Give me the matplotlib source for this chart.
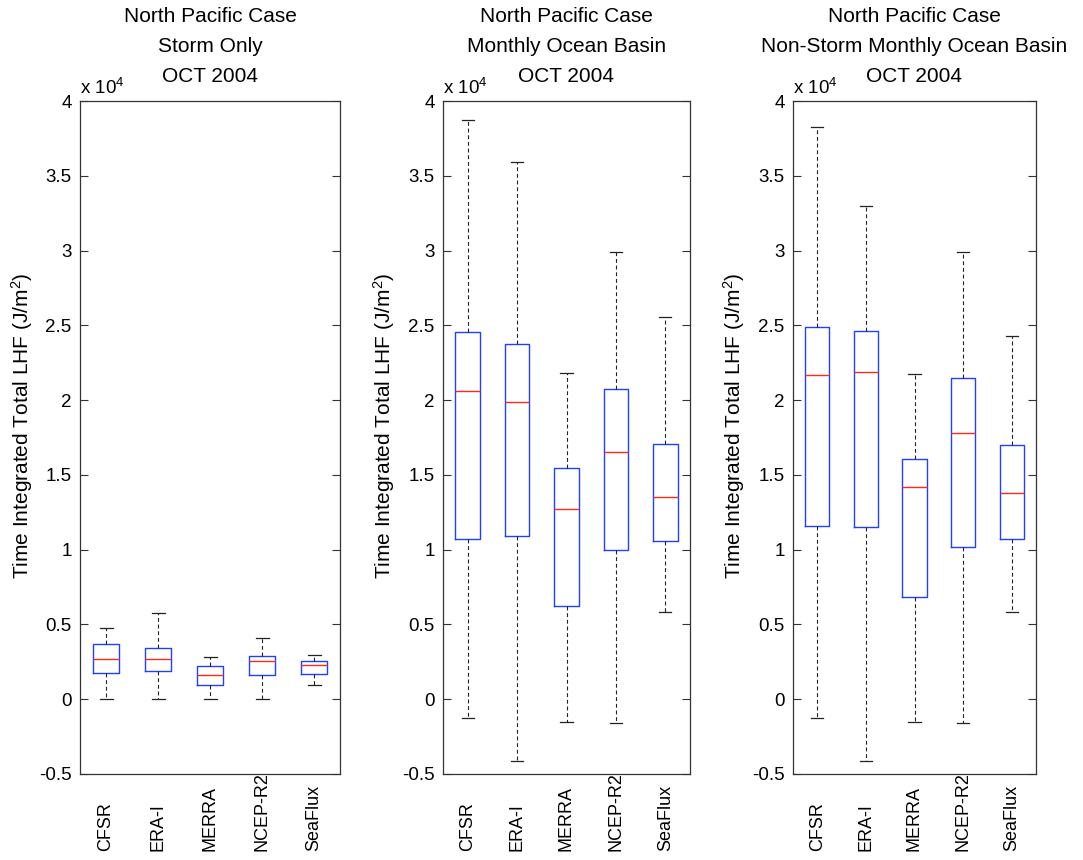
import matplotlib
matplotlib.use("Agg")
import matplotlib.pyplot as plt
from matplotlib.transforms import blended_transform_factory

plt.rcParams['font.family'] = ['Liberation Sans', 'DejaVu Sans']
plt.rcParams['mathtext.fontset'] = 'custom'
plt.rcParams['mathtext.rm'] = 'Liberation Sans'
plt.rcParams['mathtext.it'] = 'Liberation Sans:italic'

# ---------------- data (units of 10^4 J/m^2) ----------------
models = ['CFSR', 'ERA-I', 'MERRA', 'NCEP-R2', 'SeaFlux']

# Panel 1: Storm Only
storm_lo  = [0.0,   0.0,   0.0,   0.0,   0.094]
storm_q1  = [0.175, 0.190, 0.096, 0.161, 0.168]
storm_med = [0.270, 0.271, 0.161, 0.258, 0.229]
storm_q3  = [0.370, 0.343, 0.222, 0.291, 0.258]
storm_hi  = [0.474, 0.576, 0.283, 0.412, 0.298]

# Panel 2: Monthly Ocean Basin
basin_lo  = [-0.127, -0.410, -0.152, -0.160, 0.582]
basin_q1  = [1.074, 1.094, 0.624, 0.996, 1.056]
basin_med = [2.061, 1.987, 1.275, 1.652, 1.353]
basin_q3  = [2.454, 2.378, 1.547, 2.072, 1.704]
basin_hi  = [3.874, 3.593, 2.181, 2.992, 2.559]

# Panel 3: Non-Storm Monthly Ocean Basin
nonstorm_lo  = [-0.127, -0.410, -0.152, -0.160, 0.582]
nonstorm_q1  = [1.156, 1.154, 0.683, 1.015, 1.074]
nonstorm_med = [2.166, 2.188, 1.417, 1.779, 1.380]
nonstorm_q3  = [2.489, 2.465, 1.603, 2.147, 1.697]
nonstorm_hi  = [3.827, 3.295, 2.177, 2.990, 2.429]

yticks = [-0.5, 0, 0.5, 1, 1.5, 2, 2.5, 3, 3.5, 4]
ytick_labels = ['-0.5', '0', '0.5', '1', '1.5', '2', '2.5', '3', '3.5', '4']

titles = [['North Pacific Case', 'Storm Only', 'OCT 2004'],
          ['North Pacific Case', 'Monthly Ocean Basin', 'OCT 2004'],
          ['North Pacific Case', 'Non-Storm Monthly Ocean Basin', 'OCT 2004']]

panels = [
    (storm_lo, storm_q1, storm_med, storm_q3, storm_hi),
    (basin_lo, basin_q1, basin_med, basin_q3, basin_hi),
    (nonstorm_lo, nonstorm_q1, nonstorm_med, nonstorm_q3, nonstorm_hi),
]

# ---------------- figure ----------------
W, H = 1083, 860
fig = plt.figure(figsize=(W / 100, H / 100), dpi=100)
fig.patch.set_facecolor('white')

ax_left = [80, 443, 793]
ax_width = [260, 247, 243]
ax_top, ax_bottom = 101, 774
title_offsets_px = [84, 55, 25]   # distance of each title line above the axes top

for i, (lo, q1, med, q3, hi) in enumerate(panels):
    ax = fig.add_axes([ax_left[i] / W, (H - ax_bottom) / H,
                       ax_width[i] / W, (ax_bottom - ax_top) / H])
    stats = [dict(label=m, whislo=lo[k], q1=q1[k], med=med[k], q3=q3[k],
                  whishi=hi[k], fliers=[]) for k, m in enumerate(models)]
    positions = list(range(1, len(models) + 1))
    ax.bxp(stats, positions=positions, widths=0.5, capwidths=0.25,
           showfliers=False,
           boxprops=dict(color='#2040ff', lw=1.0),
           medianprops=dict(color='#ff2a1a', lw=1.0),
           whiskerprops=dict(color='#222222', lw=0.8, ls=(0, (3.5, 2.5))),
           capprops=dict(color='#222222', lw=0.9))
    ax.set_xlim(0.5, 5.5)
    ax.set_ylim(-0.5, 4)
    ax.set_yticks(yticks)
    ax.set_yticklabels(ytick_labels)
    ax.set_xticks(positions)
    ax.tick_params(axis='x', length=0, labelbottom=False)
    ax.tick_params(axis='y', direction='in', left=True, right=True,
                   length=6, width=0.8, labelsize=13.5, pad=6,
                   color='#333333')
    for sp in ax.spines.values():
        sp.set_color('#333333')
        sp.set_linewidth(0.9)

    for line, off in zip(titles[i], title_offsets_px):
        ax.annotate(line, xy=(0.5, 1.0), xycoords='axes fraction',
                    xytext=(0, off * 0.72), textcoords='offset points',
                    ha='center', va='center', fontsize=15)

    ax.text(0.0, 1.005, 'x 10$^{4}$', transform=ax.transAxes,
            ha='left', va='bottom', fontsize=13.5)

    ax.set_ylabel('Time Integrated Total LHF (J/m$^{2}$)', fontsize=15)
    ax.yaxis.set_label_coords(-58 / ax_width[i] + 0.05, 0.518)

    trans = blended_transform_factory(ax.transData, fig.transFigure)
    for k, m in enumerate(models):
        ax.text(positions[k], 9 / H, m, transform=trans, rotation=90,
                ha='center', va='bottom', fontsize=13)

fig.savefig('out.png', dpi=100)
